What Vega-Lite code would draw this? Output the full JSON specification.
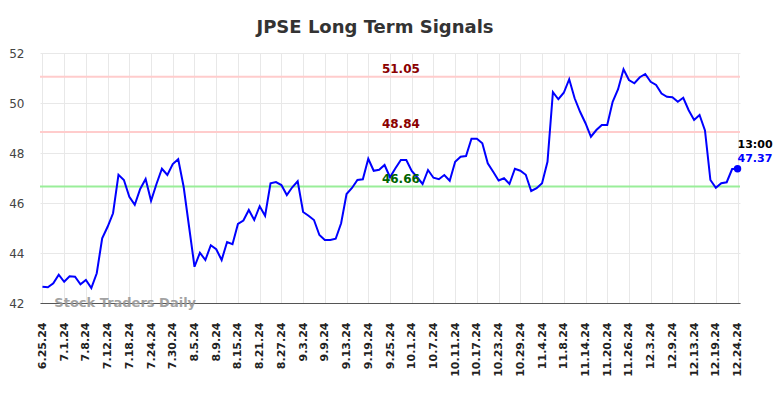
{
  "$schema": "https://vega.github.io/schema/vega-lite/v6.json",
  "width": 700,
  "height": 250,
  "autosize": {"type": "none"},
  "padding": {"left": 40, "top": 53, "right": 44, "bottom": 95},
  "background": "white",
  "config": {"font": "DejaVu Sans", "view": {"stroke": null}},
  "title": {"text": "JPSE Long Term Signals", "fontSize": 18, "fontWeight": "bold", "color": "#333333", "anchor": "middle", "baseline": "middle", "offset": 1, "dx": -15},
  "datasets": {
    "prices": [
      {"date": "6.25.24", "v": 42.65}, {"date": "6.26.24", "v": 42.63}, {"date": "6.27.24", "v": 42.79}, {"date": "6.28.24", "v": 43.13},
      {"date": "7.1.24", "v": 42.85}, {"date": "7.2.24", "v": 43.07}, {"date": "7.3.24", "v": 43.05}, {"date": "7.5.24", "v": 42.75},
      {"date": "7.8.24", "v": 42.92}, {"date": "7.9.24", "v": 42.60}, {"date": "7.10.24", "v": 43.19}, {"date": "7.11.24", "v": 44.59},
      {"date": "7.12.24", "v": 45.05}, {"date": "7.15.24", "v": 45.59}, {"date": "7.16.24", "v": 47.13}, {"date": "7.17.24", "v": 46.92},
      {"date": "7.18.24", "v": 46.25}, {"date": "7.19.24", "v": 45.93}, {"date": "7.22.24", "v": 46.56}, {"date": "7.23.24", "v": 46.96},
      {"date": "7.24.24", "v": 46.09}, {"date": "7.25.24", "v": 46.76}, {"date": "7.26.24", "v": 47.37}, {"date": "7.29.24", "v": 47.12},
      {"date": "7.30.24", "v": 47.56}, {"date": "7.31.24", "v": 47.75}, {"date": "8.1.24", "v": 46.65}, {"date": "8.2.24", "v": 45.05},
      {"date": "8.5.24", "v": 43.45}, {"date": "8.6.24", "v": 44.01}, {"date": "8.7.24", "v": 43.72}, {"date": "8.8.24", "v": 44.31},
      {"date": "8.9.24", "v": 44.15}, {"date": "8.12.24", "v": 43.72}, {"date": "8.13.24", "v": 44.44}, {"date": "8.14.24", "v": 44.35},
      {"date": "8.15.24", "v": 45.16}, {"date": "8.16.24", "v": 45.30}, {"date": "8.19.24", "v": 45.72}, {"date": "8.20.24", "v": 45.32},
      {"date": "8.21.24", "v": 45.87}, {"date": "8.22.24", "v": 45.49}, {"date": "8.23.24", "v": 46.79}, {"date": "8.26.24", "v": 46.84},
      {"date": "8.27.24", "v": 46.72}, {"date": "8.28.24", "v": 46.32}, {"date": "8.29.24", "v": 46.63}, {"date": "8.30.24", "v": 46.87},
      {"date": "9.3.24", "v": 45.64}, {"date": "9.4.24", "v": 45.49}, {"date": "9.5.24", "v": 45.32}, {"date": "9.6.24", "v": 44.72},
      {"date": "9.9.24", "v": 44.52}, {"date": "9.10.24", "v": 44.52}, {"date": "9.11.24", "v": 44.57}, {"date": "9.12.24", "v": 45.19},
      {"date": "9.13.24", "v": 46.36}, {"date": "9.16.24", "v": 46.60}, {"date": "9.17.24", "v": 46.92}, {"date": "9.18.24", "v": 46.95},
      {"date": "9.19.24", "v": 47.77}, {"date": "9.20.24", "v": 47.29}, {"date": "9.23.24", "v": 47.33}, {"date": "9.24.24", "v": 47.52},
      {"date": "9.25.24", "v": 47.03}, {"date": "9.26.24", "v": 47.39}, {"date": "9.27.24", "v": 47.72}, {"date": "9.30.24", "v": 47.72},
      {"date": "10.1.24", "v": 47.28}, {"date": "10.2.24", "v": 47.03}, {"date": "10.3.24", "v": 46.76}, {"date": "10.4.24", "v": 47.32},
      {"date": "10.7.24", "v": 47.01}, {"date": "10.8.24", "v": 46.95}, {"date": "10.9.24", "v": 47.12}, {"date": "10.10.24", "v": 46.89},
      {"date": "10.11.24", "v": 47.65}, {"date": "10.14.24", "v": 47.85}, {"date": "10.15.24", "v": 47.88}, {"date": "10.16.24", "v": 48.57},
      {"date": "10.17.24", "v": 48.57}, {"date": "10.18.24", "v": 48.39}, {"date": "10.21.24", "v": 47.59}, {"date": "10.22.24", "v": 47.25},
      {"date": "10.23.24", "v": 46.90}, {"date": "10.24.24", "v": 46.99}, {"date": "10.25.24", "v": 46.76}, {"date": "10.28.24", "v": 47.37},
      {"date": "10.29.24", "v": 47.29}, {"date": "10.30.24", "v": 47.13}, {"date": "10.31.24", "v": 46.48}, {"date": "11.1.24", "v": 46.59},
      {"date": "11.4.24", "v": 46.79}, {"date": "11.5.24", "v": 47.65}, {"date": "11.6.24", "v": 50.43}, {"date": "11.7.24", "v": 50.15},
      {"date": "11.8.24", "v": 50.41}, {"date": "11.11.24", "v": 50.95}, {"date": "11.12.24", "v": 50.19}, {"date": "11.13.24", "v": 49.65},
      {"date": "11.14.24", "v": 49.19}, {"date": "11.15.24", "v": 48.65}, {"date": "11.18.24", "v": 48.92}, {"date": "11.19.24", "v": 49.12},
      {"date": "11.20.24", "v": 49.12}, {"date": "11.21.24", "v": 50.05}, {"date": "11.22.24", "v": 50.55}, {"date": "11.25.24", "v": 51.35},
      {"date": "11.26.24", "v": 50.92}, {"date": "11.27.24", "v": 50.79}, {"date": "11.29.24", "v": 51.03}, {"date": "12.2.24", "v": 51.16},
      {"date": "12.3.24", "v": 50.85}, {"date": "12.4.24", "v": 50.72}, {"date": "12.5.24", "v": 50.38}, {"date": "12.6.24", "v": 50.25},
      {"date": "12.9.24", "v": 50.23}, {"date": "12.10.24", "v": 50.05}, {"date": "12.11.24", "v": 50.21}, {"date": "12.12.24", "v": 49.71},
      {"date": "12.13.24", "v": 49.32}, {"date": "12.16.24", "v": 49.52}, {"date": "12.17.24", "v": 48.90}, {"date": "12.18.24", "v": 46.92},
      {"date": "12.19.24", "v": 46.61}, {"date": "12.20.24", "v": 46.79}, {"date": "12.23.24", "v": 46.83}, {"date": "12.24.24 am", "v": 47.36},
      {"date": "12.24.24", "v": 47.37, "time": "13:00"}
    ],
    "levels": [
      {"level": 51.05, "kind": "resistance", "at": "9.27.24"},
      {"level": 48.84, "kind": "resistance", "at": "9.27.24"},
      {"level": 46.66, "kind": "support", "at": "9.27.24"}
    ],
    "marks": [
      {"text": "Stock Traders Daily", "at": "6.27.24", "level": 42}
    ]
  },
  "encoding": {
    "x": {
      "field": "date", "type": "ordinal", "sort": null,
      "scale": {"type": "point", "padding": 0.45},
      "axis": {
        "title": null,
        "values": ["6.25.24","7.1.24","7.8.24","7.12.24","7.18.24","7.24.24","7.30.24","8.5.24","8.9.24","8.15.24","8.21.24","8.27.24","9.3.24","9.9.24","9.13.24","9.19.24","9.25.24","10.1.24","10.7.24","10.11.24","10.17.24","10.23.24","10.29.24","11.4.24","11.8.24","11.14.24","11.20.24","11.26.24","12.3.24","12.9.24","12.13.24","12.19.24","12.24.24"],
        "labelAngle": -90, "labelFontSize": 11, "labelFontWeight": "bold", "labelColor": "#222222",
        "ticks": false, "labelPadding": 19,
        "grid": true, "gridColor": "#e8e8e8", "gridWidth": 1,
        "domain": true, "domainColor": "#555555", "domainWidth": 1
      }
    }
  },
  "layer": [
    {
      "data": {"name": "levels"},
      "mark": {"type": "rule", "strokeWidth": 2},
      "encoding": {
        "x": null,
        "y": {"field": "level", "type": "quantitative", "scale": {"domain": [42, 52], "nice": false, "zero": false},
              "axis": {"title": null, "values": [42,44,46,48,50,52], "grid": true, "gridColor": "#e8e8e8", "domain": false, "ticks": false, "labelPadding": 16, "labelFontSize": 12, "labelColor": "#444444"}},
        "color": {"field": "kind", "type": "nominal", "scale": {"domain": ["resistance", "support"], "range": ["#ffcccc", "#99ee99"]}, "legend": null}
      }
    },
    {
      "data": {"name": "prices"},
      "mark": {"type": "line", "color": "#0000ff", "strokeWidth": 2},
      "encoding": {"y": {"field": "v", "type": "quantitative"}}
    },
    {
      "data": {"name": "levels"},
      "mark": {"type": "text", "fontSize": 12, "fontWeight": "bold", "align": "center", "baseline": "middle", "dy": -8},
      "encoding": {
        "x": {"field": "at", "type": "ordinal"},
        "y": {"field": "level", "type": "quantitative"},
        "text": {"field": "level", "type": "quantitative", "format": ".2f"},
        "color": {"field": "kind", "type": "nominal", "scale": {"domain": ["resistance", "support"], "range": ["#8b0000", "#006400"]}, "legend": null}
      }
    },
    {
      "data": {"name": "marks"},
      "mark": {"type": "text", "fontSize": 13, "fontWeight": "bold", "align": "left", "baseline": "middle", "color": "#999999", "opacity": 0.9, "dx": 1},
      "encoding": {
        "x": {"field": "at", "type": "ordinal"},
        "y": {"field": "level", "type": "quantitative"},
        "text": {"field": "text"}
      }
    },
    {
      "data": {"name": "prices"},
      "transform": [{"filter": "datum.date === '12.24.24'"}],
      "layer": [
        {"mark": {"type": "point", "filled": true, "color": "#0000ff", "size": 55, "opacity": 1},
         "encoding": {"y": {"field": "v", "type": "quantitative"}}},
        {"mark": {"type": "text", "fontSize": 11, "fontWeight": "bold", "align": "left", "baseline": "middle", "color": "#0000ff", "dy": -10},
         "encoding": {"y": {"field": "v", "type": "quantitative"}, "text": {"field": "v", "type": "quantitative", "format": ".2f"}}},
        {"mark": {"type": "text", "fontSize": 11, "fontWeight": "bold", "align": "left", "baseline": "middle", "color": "#000000", "dy": -24},
         "encoding": {"y": {"field": "v", "type": "quantitative"}, "text": {"field": "time"}}}
      ]
    }
  ],
  "resolve": {"scale": {"color": "independent"}}
}
